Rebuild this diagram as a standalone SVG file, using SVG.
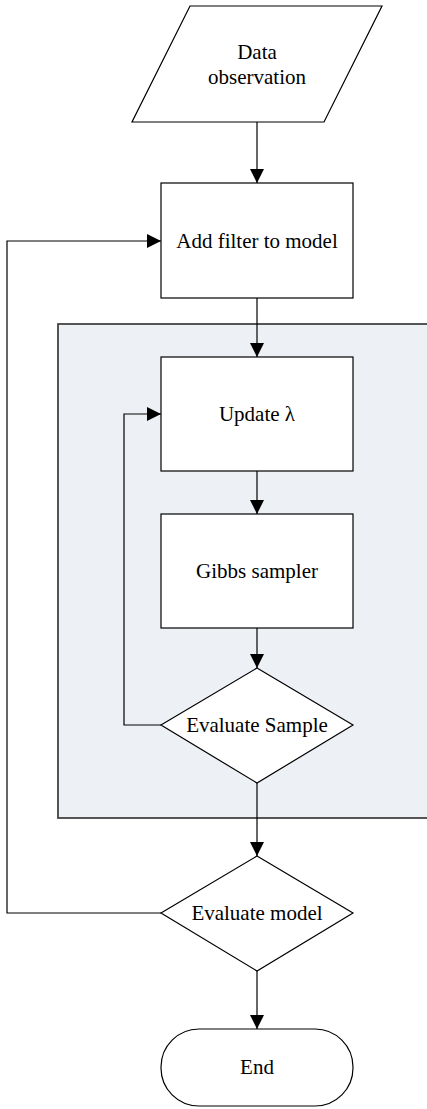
<svg xmlns="http://www.w3.org/2000/svg" width="427" height="1109" viewBox="0 0 427 1109">
<style>
.shape{fill:#fff;stroke:#000;stroke-width:1.2}
.lbl{font-family:'Liberation Serif','Times New Roman',Times,serif;font-size:21px;fill:#000;text-anchor:middle}
.conn{fill:none;stroke:#000;stroke-width:1.2}
</style>
<defs>
<marker id="ah" markerWidth="14" markerHeight="14" refX="14" refY="7" orient="auto" markerUnits="userSpaceOnUse">
<path d="M0,0 L14,7 L0,14 Z" fill="#000"/>
</marker>
</defs>
<rect id="container" x="58" y="324" width="380" height="494" fill="#edf0f5" stroke="#444" stroke-width="1.8"/>
<g id="connectors">
<line class="conn" x1="257" y1="122" x2="257" y2="183" marker-end="url(#ah)"/>
<line class="conn" x1="257" y1="298" x2="257" y2="357" marker-end="url(#ah)"/>
<line class="conn" x1="257" y1="471" x2="257" y2="514" marker-end="url(#ah)"/>
<line class="conn" x1="257" y1="628" x2="257" y2="668" marker-end="url(#ah)"/>
<line class="conn" x1="257" y1="783" x2="257" y2="856" marker-end="url(#ah)"/>
<line class="conn" x1="257" y1="971" x2="257" y2="1029" marker-end="url(#ah)"/>
<polyline class="conn" points="161,725 124,725 124,414 161,414" marker-end="url(#ah)"/>
<polyline class="conn" points="161,913 7,913 7,241 161,241" marker-end="url(#ah)"/>
</g>
<g id="data-observation">
<polygon class="shape" points="190,6 382,6 324,122 132,122"/>
<text class="lbl" font-family="Liberation Serif, serif" x="257" y="59">Data</text>
<text class="lbl" font-family="Liberation Serif, serif" x="257" y="84">observation</text>
</g>
<g id="add-filter">
<rect class="shape" x="161" y="183" width="192" height="115"/>
<text class="lbl" font-family="Liberation Serif, serif" x="257" y="248">Add filter to model</text>
</g>
<g id="update-lambda">
<rect class="shape" x="161" y="357" width="192" height="114"/>
<text class="lbl" font-family="Liberation Serif, serif" x="257" y="421">Update λ</text>
</g>
<g id="gibbs-sampler">
<rect class="shape" x="161" y="514" width="192" height="114"/>
<text class="lbl" font-family="Liberation Serif, serif" x="257" y="578">Gibbs sampler</text>
</g>
<g id="evaluate-sample">
<polygon class="shape" points="257,668 353,725 257,783 161,725"/>
<text class="lbl" font-family="Liberation Serif, serif" x="257" y="732">Evaluate Sample</text>
</g>
<g id="evaluate-model">
<polygon class="shape" points="257,856 353,913 257,971 161,913"/>
<text class="lbl" font-family="Liberation Serif, serif" x="257" y="920">Evaluate model</text>
</g>
<g id="end">
<rect class="shape" x="161" y="1029" width="192" height="77" rx="38" ry="38"/>
<text class="lbl" font-family="Liberation Serif, serif" x="257" y="1074">End</text>
</g>
</svg>
